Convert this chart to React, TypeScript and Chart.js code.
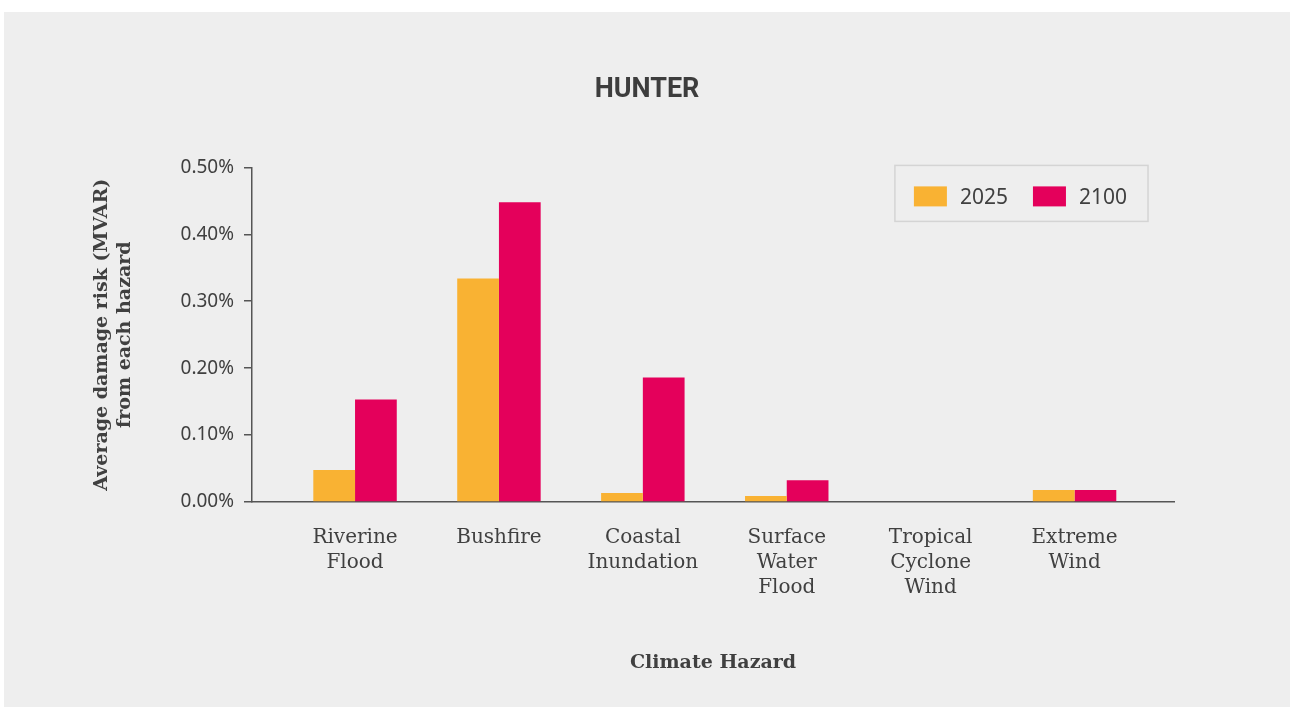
import React, { useEffect, useRef } from 'react';
import { Chart, registerables } from 'chart.js';

Chart.register(...registerables);

const chartTitle = 'HUNTER';
const categories: string[][] = [
  ['Riverine', 'Flood'],
  ['Bushfire'],
  ['Coastal', 'Inundation'],
  ['Surface', 'Water', 'Flood'],
  ['Tropical', 'Cyclone', 'Wind'],
  ['Extreme', 'Wind'],
];
const seriesLabels = ['2025', '2100'];
const values2025 = [0.048, 0.334, 0.0135, 0.009, 0, 0.018];
const values2100 = [0.153, 0.448, 0.186, 0.0325, 0, 0.018];
const seriesColors = ['#F9B233', '#E4005B'];
const yTicks = [0, 0.1, 0.2, 0.3, 0.4, 0.5];
const yAxisTitle = ['Average damage risk (MVAR)', 'from each hazard'];
const xAxisTitle = 'Climate Hazard';

const TEXT = '#404040';
const SLAB = '"DejaVu Serif", serif';
const SANS = '"Noto Sans", sans-serif';

const boxLegend = {
  id: 'boxLegend',
  afterDraw(chart: any) {
    const { ctx, chartArea } = chart;
    ctx.save();
    ctx.font = `21px ${SANS}`;
    const sw = 33, sh = 20, gapText = 13, gapItem = 25, padL = 19, padR = 21, h = 56;
    const items = chart.data.datasets.map((ds: any) => ({
      label: ds.label,
      color: ds.backgroundColor,
      w: ctx.measureText(ds.label).width,
    }));
    const total =
      padL +
      items.reduce((s: number, it: any, i: number) => s + sw + gapText + it.w + (i ? gapItem : 0), 0) +
      padR;
    const right = chartArea.right - 26;
    const left = right - total;
    const top = chartArea.top - 2;
    ctx.strokeStyle = '#d4d4d4';
    ctx.lineWidth = 1.5;
    ctx.strokeRect(left, top, total, h);
    let x = left + padL;
    const cy = top + 31;
    ctx.textBaseline = 'middle';
    ctx.textAlign = 'left';
    items.forEach((it: any, i: number) => {
      if (i) x += gapItem;
      ctx.fillStyle = it.color;
      ctx.fillRect(x, cy - sh / 2, sw, sh);
      x += sw + gapText;
      ctx.fillStyle = TEXT;
      ctx.fillText(it.label, x, cy + 2);
      x += it.w;
    });
    ctx.restore();
  },
};

export default function App() {
  const ref = useRef<HTMLCanvasElement | null>(null);

  useEffect(() => {
    if (!ref.current) return;
    const chart = new Chart(ref.current, {
      type: 'bar',
      data: {
        datasets: [
          {
            label: seriesLabels[0],
            data: values2025.map((v, i) => ({ x: i, y: v })),
            backgroundColor: seriesColors[0],
          },
          {
            label: seriesLabels[1],
            data: values2100.map((v, i) => ({ x: i, y: v })),
            backgroundColor: seriesColors[1],
          },
        ],
      },
      options: {
        responsive: false,
        animation: false,
        devicePixelRatio: 1,
        layout: { padding: 0 },
        datasets: {
          bar: { categoryPercentage: 0.58, barPercentage: 1, borderWidth: 0 },
        },
        plugins: {
          legend: { display: false },
          tooltip: { enabled: false },
          title: {
            display: true,
            text: chartTitle,
            color: '#3d3d3d',
            font: { family: 'Roboto, sans-serif', size: 27, weight: 'bold', lineHeight: 1.2 },
            padding: { top: 62, bottom: 61 },
          },
        },
        scales: {
          x: {
            type: 'linear',
            min: -0.716,
            max: 5.691,
            offset: false,
            grid: { display: false, drawTicks: false },
            border: { display: true, color: '#555', width: 1.5 },
            ticks: {
              stepSize: 1,
              includeBounds: false,
              autoSkip: false,
              maxRotation: 0,
              padding: 23,
              color: TEXT,
              font: { family: SLAB, size: 20, lineHeight: 25 / 20 },
              callback: (value: any) => {
                const v = Number(value);
                return Number.isInteger(v) && categories[v] ? categories[v] : '';
              },
            },
            title: {
              display: true,
              text: xAxisTitle,
              color: TEXT,
              font: { family: SLAB, size: 19, weight: 'bold', lineHeight: 1.2 },
              padding: { top: 0, bottom: 33 },
            },
            afterFit: (scale: any) => {
              scale.height = 205;
            },
          },
          y: {
            min: 0,
            max: 0.5,
            grid: { display: true, drawOnChartArea: false, drawTicks: true, tickLength: 8, color: '#555', lineWidth: 1.5 },
            border: { display: true, color: '#555', width: 1.5 },
            afterBuildTicks: (scale: any) => {
              scale.ticks = yTicks.map((v) => ({ value: v }));
            },
            ticks: {
              padding: 10,
              color: TEXT,
              font: { family: SANS, size: 19 },
              callback: (value: any) => Number(value).toFixed(2) + '%',
            },
            title: {
              display: true,
              text: yAxisTitle,
              color: TEXT,
              font: { family: SLAB, size: 19, weight: 'bold', lineHeight: 23 / 19 },
              padding: { top: 87, bottom: 0 },
            },
            afterFit: (scale: any) => {
              scale.width = 248;
            },
          },
          yRight: {
            type: 'linear',
            position: 'right',
            display: true,
            grid: { display: false, drawTicks: false },
            border: { display: false },
            ticks: { display: false },
            afterFit: (scale: any) => {
              scale.width = 116;
            },
          },
        },
      } as any,
      plugins: [boxLegend],
    });
    return () => chart.destroy();
  }, []);

  return (
    <div
      style={{
        position: 'absolute',
        left: 4,
        top: 12,
        width: 1286,
        height: 695,
        background: '#eeeeee',
      }}
    >
      <canvas ref={ref} width={1286} height={695} style={{ display: 'block', width: 1286, height: 695 }} />
    </div>
  );
}
